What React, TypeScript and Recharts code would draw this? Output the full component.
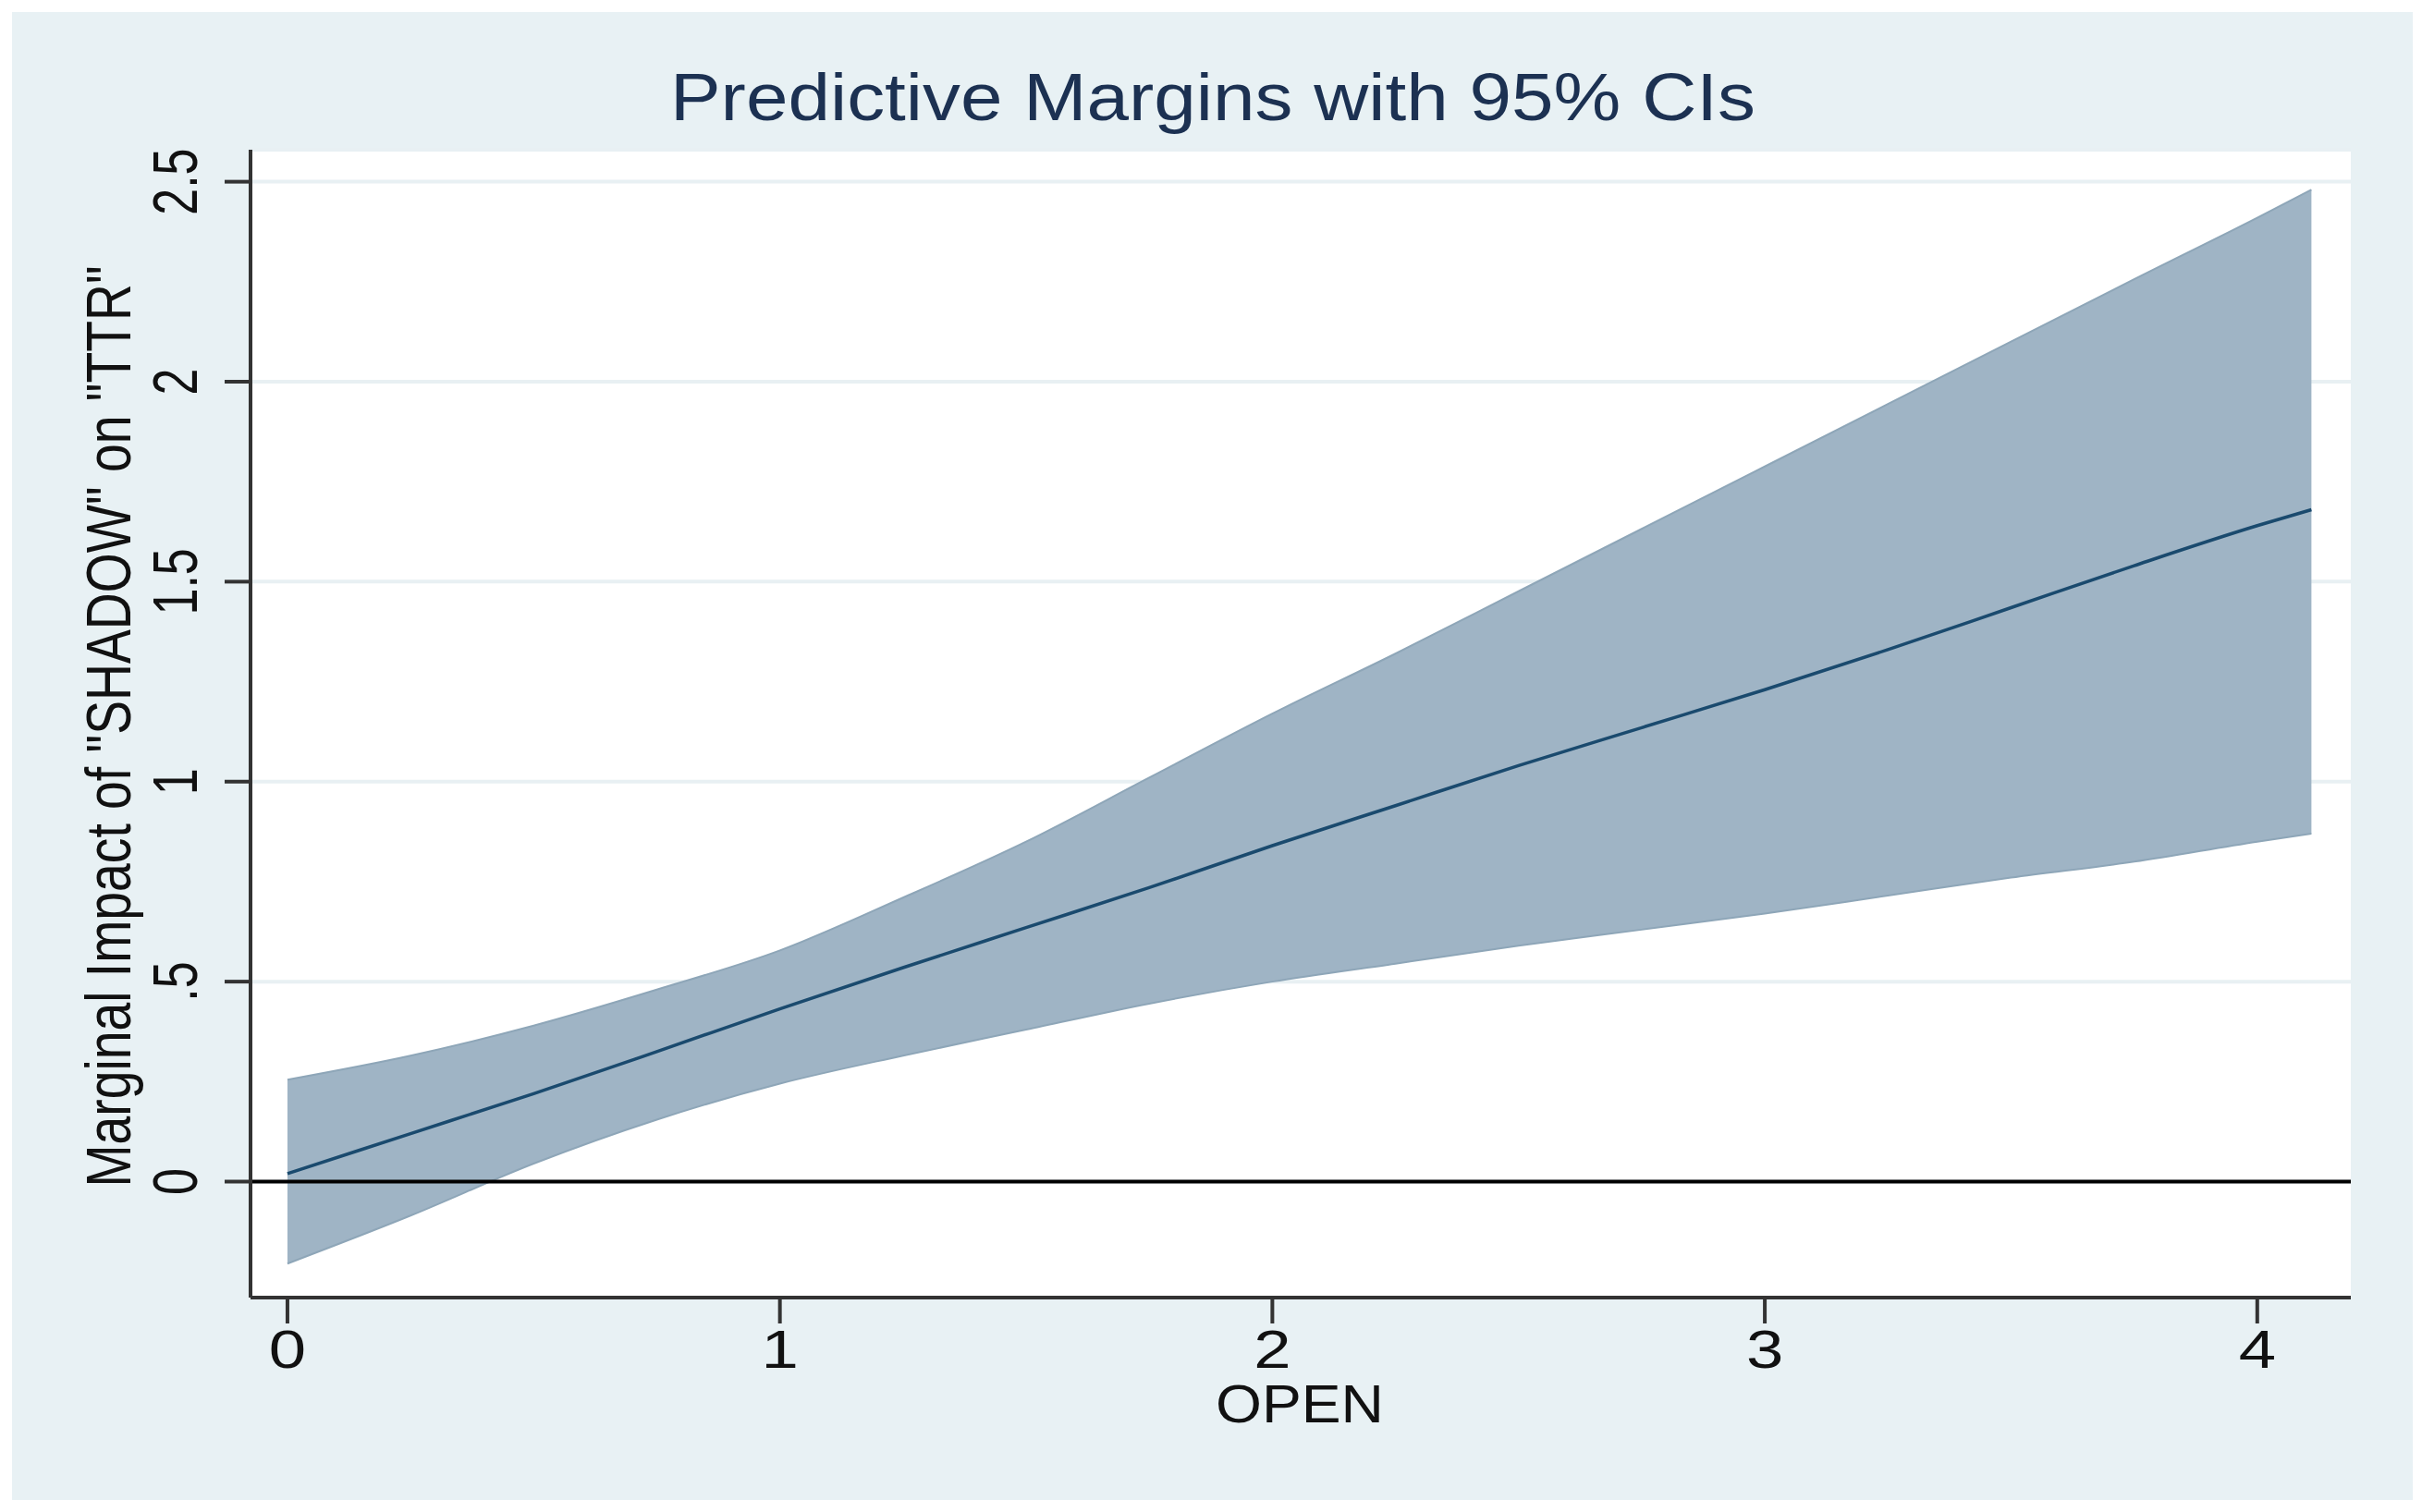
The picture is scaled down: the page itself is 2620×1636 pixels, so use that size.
import { Area, CartesianGrid, ComposedChart, Line, ReferenceLine, XAxis, YAxis } from "recharts";

// values
const openX = [0, 0.25, 0.5, 0.75, 1, 1.25, 1.5, 1.75, 2, 2.25, 2.5, 2.75, 3, 3.25, 3.5, 3.75, 4, 4.11];
const meanImpact = [0.02, 0.12, 0.22, 0.325, 0.432, 0.535, 0.635, 0.735, 0.84, 0.94, 1.04, 1.135, 1.23, 1.33, 1.435, 1.54, 1.64, 1.68];
const ciLower = [-0.205, -0.085, 0.045, 0.155, 0.245, 0.315, 0.38, 0.445, 0.5, 0.545, 0.59, 0.63, 0.67, 0.715, 0.76, 0.8, 0.85, 0.87];
const ciUpper = [0.255, 0.315, 0.39, 0.48, 0.578, 0.71, 0.85, 1.01, 1.17, 1.32, 1.476, 1.632, 1.788, 1.944, 2.1, 2.256, 2.41, 2.48];

const xTicks = [0, 1, 2, 3, 4];
const xTickLabels = ["0", "1", "2", "3", "4"];
const yTicks = [0, 0.5, 1, 1.5, 2, 2.5];
const yTickLabels = ["0", ".5", "1", "1.5", "2", "2.5"];

const data = openX.map((x, i) => ({ x, band: [ciLower[i], ciUpper[i]], mean: meanImpact[i] }));

const FONT = "'Liberation Sans', Arial, sans-serif";
const AXIS = "#333";

function YTick({ x, y, payload }: any) {
  const label = yTickLabels[yTicks.indexOf(payload.value)] ?? String(payload.value);
  return (
    <text
      transform={`translate(${x - 28},${y}) scale(1.3,1) rotate(-90)`}
      textAnchor="middle"
      fontFamily={FONT}
      fontSize={52}
      fill="#111"
    >
      {label}
    </text>
  );
}

function XTick({ x, y, payload }: any) {
  const label = xTickLabels[xTicks.indexOf(payload.value)] ?? String(payload.value);
  return (
    <text
      transform={`translate(${x},${y + 46}) scale(1.25,1)`}
      textAnchor="middle"
      fontFamily={FONT}
      fontSize={58}
      fill="#111"
    >
      {label}
    </text>
  );
}

export default function App() {
  return (
    <div style={{ position: "relative", width: 2620, height: 1636, background: "#fff" }}>
      <style>{"body{margin:0}"}</style>
      <div style={{ position: "absolute", left: 13, top: 13, width: 2597, height: 1610, background: "#e8f1f4" }} />
      <div style={{ position: "absolute", left: 0, top: 0 }}>
        <ComposedChart width={2620} height={1636} data={data} margin={{ top: 162, right: 77, bottom: 32, left: 71 }}>
          <CartesianGrid vertical={false} fill="#fff" stroke="#e8f0f3" strokeWidth={4} />
          <XAxis
            type="number"
            dataKey="x"
            domain={[-0.075, 4.19]}
            ticks={xTicks}
            allowDataOverflow
            height={200}
            tickSize={28}
            tickMargin={2}
            axisLine={{ stroke: AXIS, strokeWidth: 4 }}
            tickLine={{ stroke: AXIS, strokeWidth: 4 }}
            tick={<XTick />}
          />
          <YAxis
            type="number"
            domain={[-0.29, 2.58]}
            ticks={yTicks}
            allowDataOverflow
            width={200}
            tickSize={28}
            tickMargin={2}
            axisLine={{ stroke: AXIS, strokeWidth: 4 }}
            tickLine={{ stroke: AXIS, strokeWidth: 4 }}
            tick={<YTick />}
          />
          <ReferenceLine y={0} stroke="#000" strokeWidth={4} />
          <Area
            type="monotone"
            dataKey="band"
            fill="#9fb4c5"
            fillOpacity={1}
            stroke="#8ea6b8"
            strokeWidth={2}
            isAnimationActive={false}
          />
          <Line type="monotone" dataKey="mean" stroke="#1a4a6e" strokeWidth={3.5} dot={false} isAnimationActive={false} />
        </ComposedChart>
      </div>
      <svg width={2620} height={1636} style={{ position: "absolute", left: 0, top: 0, pointerEvents: "none" }}>
        <text x={1312} y={130} textAnchor="middle" fontFamily={FONT} fontSize={72} fill="#1c3152" textLength={1174} lengthAdjust="spacingAndGlyphs">
          Predictive Margins with 95% CIs
        </text>
        <text x={1406} y={1539} textAnchor="middle" fontFamily={FONT} fontSize={57} fill="#111" textLength={182} lengthAdjust="spacingAndGlyphs">
          OPEN
        </text>
        <text
          transform="translate(141,786) scale(1.24,1) rotate(-90)"
          textAnchor="middle"
          fontFamily={FONT}
          fontSize={55}
          fill="#111"
          textLength={997}
          lengthAdjust="spacingAndGlyphs"
        >
          Marginal Impact of "SHADOW" on "TTR"
        </text>
      </svg>
    </div>
  );
}
